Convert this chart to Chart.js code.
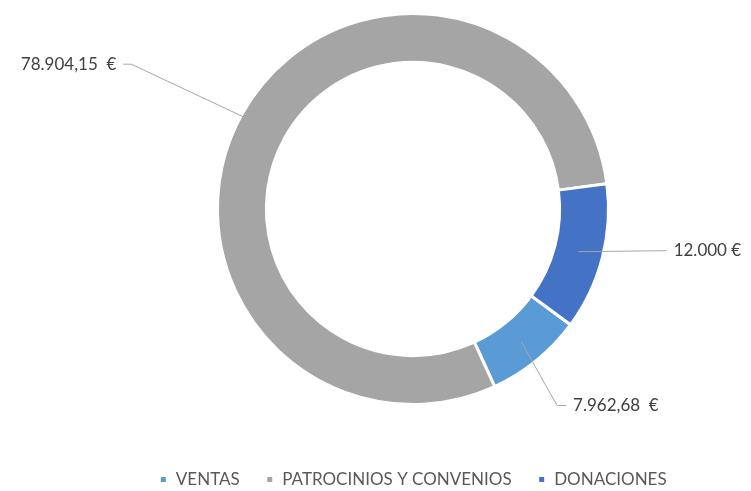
<!DOCTYPE html>
<html>
<head>
<meta charset="utf-8">
<script src="https://cdn.jsdelivr.net/npm/chart.js@4"></script>
<style>
  html, body { margin: 0; padding: 0; background: #ffffff; }
  #wrap { width: 751px; height: 491px; }
</style>
</head>
<body>
<div id="wrap"><canvas id="ingresosChart" width="751" height="491"></canvas></div>
<script>
// data
const categories = ['VENTAS', 'PATROCINIOS Y CONVENIOS', 'DONACIONES'];
const amounts = [7962.68, 78904.15, 12000];
const colors = ['#5B9BD5', '#A5A5A5', '#4472C4'];

// where each leader line bends, relative to its point on the ring
const leaderLayout = [
    { dx: 36, dy: 64, run: 9, side: 'right' },
    { dx: -132, dy: -62, run: -8, side: 'left' },
    { dx: 88, dy: -1, run: 0, side: 'right' }
];

// 78904.15 -> "78.904,15  €", 12000 -> "12.000 €"
function euro(v) {
    const parts = v.toFixed(2).split('.');
    const ent = parts[0].replace(/\B(?=(\d{3})+(?!\d))/g, '.');
    if (parts[1] === '00') return ent + ' €';
    return ent + ',' + parts[1] + '  €';
}

const leaderLabels = {
    id: 'leaderLabels',
    afterDatasetsDraw(chart) {
        const ctx = chart.ctx;
        const meta = chart.getDatasetMeta(0);
        ctx.save();
        ctx.font = '17px Lato, "Open Sans", sans-serif';
        ctx.textBaseline = 'middle';
        meta.data.forEach((arc, i) => {
            const p = arc.getProps(['x', 'y', 'startAngle', 'endAngle', 'innerRadius', 'outerRadius'], true);
            const mid = (p.startAngle + p.endAngle) / 2;
            const r = (p.innerRadius + p.outerRadius) / 2;
            const ax = p.x + Math.cos(mid) * r;
            const ay = p.y + Math.sin(mid) * r;
            const L = leaderLayout[i];
            const ex = ax + L.dx, ey = ay + L.dy;
            const tx = ex + L.run;
            ctx.strokeStyle = '#A6A6A6';
            ctx.lineWidth = 1;
            ctx.beginPath();
            ctx.moveTo(ax, ay);
            ctx.lineTo(ex, ey);
            ctx.lineTo(tx, ey);
            ctx.stroke();
            ctx.fillStyle = '#404040';
            if (L.side === 'left') {
                ctx.textAlign = 'right';
                ctx.fillText(euro(amounts[i]), tx - 7, ey);
            } else {
                ctx.textAlign = 'left';
                ctx.fillText(euro(amounts[i]), tx + 7, ey);
            }
        });
        ctx.restore();
    }
};

const ctx = document.getElementById('ingresosChart').getContext('2d');
new Chart(ctx, {
    type: 'doughnut',
    data: {
        labels: categories,
        datasets: [{
            data: amounts,
            backgroundColor: colors,
            borderColor: '#ffffff',
            borderWidth: 3,
            radius: 195.5
        }]
    },
    options: {
        responsive: false,
        animation: false,
        rotation: 126.3,
        cutout: '75%',
        layout: {
            padding: { top: 0, bottom: -7, left: 95, right: 20 }
        },
        plugins: {
            tooltip: { enabled: false },
            legend: {
                position: 'bottom',
                // empty title only to make the legend band taller
                title: { display: true, text: '', font: { size: 10 }, padding: { top: 0, bottom: 15 } },
                labels: {
                    boxWidth: 8,
                    boxHeight: 8,
                    padding: 26,
                    color: '#595959',
                    font: { family: 'Lato, "Open Sans", sans-serif', size: 17 }
                }
            }
        }
    },
    plugins: [leaderLabels]
});
</script>
</body>
</html>
